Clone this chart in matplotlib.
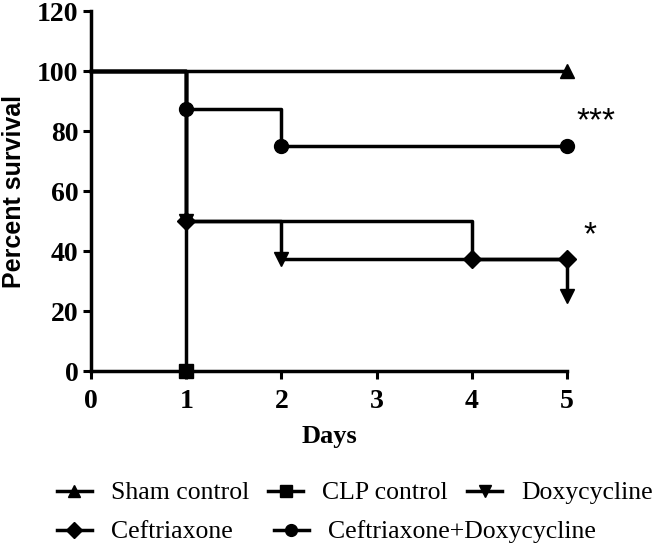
import matplotlib
matplotlib.use("Agg")
import matplotlib.pyplot as plt

# Kaplan-Meier survival data (days, percent survival)
sham_days = [0, 5]
sham_surv = [100, 100]
clp_days = [0, 1]
clp_surv = [100, 0]
doxy_days = [0, 1, 2, 5]
doxy_surv = [100, 50, 37.5, 25]
ceft_days = [0, 1, 4, 5]
ceft_surv = [100, 50, 37.5, 37.5]
combo_days = [0, 1, 2, 5]
combo_surv = [100, 87.5, 75, 75]

x_ticks = [0, 1, 2, 3, 4, 5]
y_ticks = [0, 20, 40, 60, 80, 100, 120]

SERIF = 'Liberation Serif'
SANS = 'Liberation Sans'

fig = plt.figure(figsize=(6.61, 5.49), dpi=100)
ax = fig.add_axes([0.1377, 0.3242, 0.72, 0.6557])

series = [
    (sham_days, sham_surv, '^', 10, 'Sham control'),
    (clp_days, clp_surv, 's', 9.5, 'CLP control'),
    (doxy_days, doxy_surv, 'v', 10, 'Doxycycline'),
    (ceft_days, ceft_surv, 'D', 9, 'Ceftriaxone'),
    (combo_days, combo_surv, 'o', 10, 'Ceftriaxone+Doxycycline'),
]

lines = {}
for days, surv, mk, ms, name in series:
    # step line, markers at each drop point and at the end
    ln, = ax.plot(days, surv, drawstyle='steps-post', color='black', lw=2.5,
                  marker=mk, markersize=ms, markevery=slice(1, None),
                  clip_on=False, zorder=3, label=name)
    lines[name] = ln

ax.set_xlim(0, 5)
ax.set_ylim(0, 120)
ax.set_xticks(x_ticks)
ax.set_yticks(y_ticks)

for side in ['top', 'right']:
    ax.spines[side].set_visible(False)
for side in ['left', 'bottom']:
    ax.spines[side].set_linewidth(2.5)

ax.tick_params(direction='out', length=6, width=2.2)
ax.tick_params(axis='x', pad=7)
ax.tick_params(axis='y', pad=3)
for lbl in ax.get_xticklabels() + ax.get_yticklabels():
    lbl.set_fontfamily(SERIF)
    lbl.set_fontweight('bold')
    lbl.set_fontsize(20)

ax.set_xlabel('Days', family=SERIF, fontweight='bold', fontsize=19, labelpad=8)
ax.set_ylabel('Percent survival', family=SANS, fontweight='bold', fontsize=18, labelpad=8)

# significance marks
ax.text(5.31, 83, '***', family=SANS, fontsize=24, ha='center', va='center', clip_on=False)
ax.text(5.24, 45, '*', family=SANS, fontsize=24, ha='center', va='center', clip_on=False)

# legend in two rows, like the original
row1 = ['Sham control', 'CLP control', 'Doxycycline']
row2 = ['Ceftriaxone', 'Ceftriaxone+Doxycycline']
common = dict(frameon=False, borderpad=0, borderaxespad=0, handlelength=1.35,
              handletextpad=0.75, prop={'family': SERIF, 'size': 18.5},
              loc='center left', markerscale=0.85)
leg1 = fig.legend([lines[n] for n in row1], row1, ncol=3, columnspacing=0.75,
                  bbox_to_anchor=(57 / 661, 1 - 493 / 549), **common)
leg2 = fig.legend([lines[n] for n in row2], row2, ncol=2, columnspacing=1.6,
                  bbox_to_anchor=(57 / 661, 1 - 532 / 549), **common)

fig.savefig('out.png', dpi=100)
